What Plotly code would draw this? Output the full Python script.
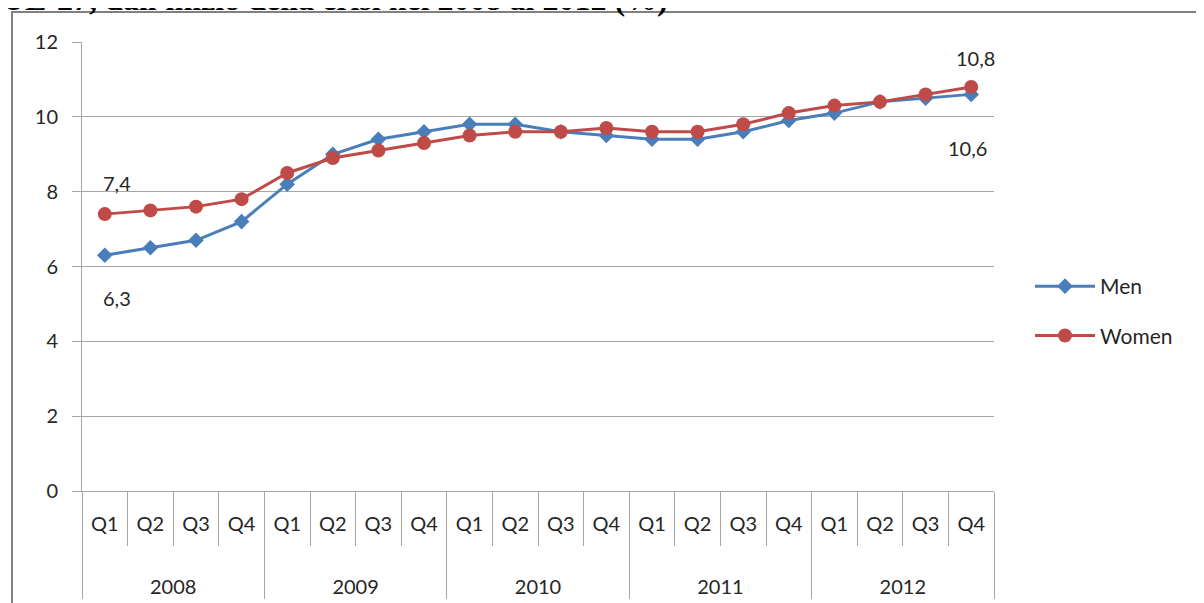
import plotly.graph_objects as go

years = ["2008", "2009", "2010", "2011", "2012"]
quarters = ["Q1", "Q2", "Q3", "Q4"]
men = [6.3, 6.5, 6.7, 7.2, 8.2, 9.0, 9.4, 9.6, 9.8, 9.8, 9.6, 9.5, 9.4, 9.4, 9.6, 9.9, 10.1, 10.4, 10.5, 10.6]
women = [7.4, 7.5, 7.6, 7.8, 8.5, 8.9, 9.1, 9.3, 9.5, 9.6, 9.6, 9.7, 9.6, 9.6, 9.8, 10.1, 10.3, 10.4, 10.6, 10.8]
title_text = "UE-27, dall'inizio della crisi nel 2008 al 2012 (%)"

x_outer = ["<br><br>" + y for y in years for _ in quarters]
x_inner = [q for _ in years for q in quarters]

def fmt(v):
    return f"{v:.1f}".replace(".", ",")

FONT = "Lato, Open Sans, sans-serif"
TXT = "#262626"
GRID = "#A6A6A6"

# page body has an 8px margin: work in reference pixels, convert to figure pixels
OFF = 8
W, H = 1204 - OFF, 603 - OFF
L, R, T, B = 82 - OFF, 994 - OFF, 42 - OFF, 491 - OFF

def px(x):
    return (x - OFF - L) / (R - L)

def py(y):
    return (B - (y - OFF)) / (B - T)

fig = go.Figure()
fig.add_trace(go.Scatter(
    x=[x_outer, x_inner], y=men, name="Men", mode="lines+markers",
    line=dict(color="#4A7EBB", width=3),
    marker=dict(symbol="diamond", size=12, color="#4A7EBB"),
    legendgroup="m", cliponaxis=False,
))
fig.add_trace(go.Scatter(
    x=[x_outer, x_inner], y=women, name="Women", mode="lines+markers",
    line=dict(color="#BE4B48", width=3),
    marker=dict(symbol="circle", size=14, color="#BE4B48"),
    legendgroup="w", cliponaxis=False,
))

n = len(men)
labels = [
    (0, women[0], 12, 31),
    (0, men[0], 12, -43),
    (n - 1, women[-1], 4, 29),
    (n - 1, men[-1], -4, -54),
]
annotations = [
    dict(text=fmt(v), x=i, y=v, xref="x", yref="y", showarrow=False,
         xshift=dx, yshift=dy, font=dict(size=20, family=FONT, color=TXT))
    for i, v, dx, dy in labels
]
annotations.append(
    dict(text="<b>" + title_text + "</b>", xref="paper", yref="paper", x=px(0), y=py(-1),
         xanchor="left", yanchor="middle", showarrow=False,
         font=dict(family="Liberation Serif, Times New Roman, serif", size=32, color="black"))
)

fig.update_layout(
    width=W, height=H,
    margin=dict(l=L, r=W - R, t=T, b=H - B),
    paper_bgcolor="white", plot_bgcolor="white",
    font=dict(family=FONT, size=20, color=TXT),
    showlegend=True,
    legend=dict(x=px(1030), y=py(266), xanchor="left", yanchor="top",
                traceorder="grouped", tracegroupgap=19,
                font=dict(size=21, family=FONT, color=TXT),
                itemwidth=60),
    xaxis=dict(
        type="multicategory", showgrid=False, range=[-0.5, n - 0.5], autorange=False,
        automargin=False,
        showline=True, linecolor=GRID, linewidth=1,
        ticks="outside", ticklen=54, tickcolor=GRID,
        showdividers=True, dividercolor=GRID, dividerwidth=1,
        ticklabelstandoff=15,
        tickfont=dict(size=20, family=FONT, color=TXT),
    ),
    yaxis=dict(
        range=[0, 12], dtick=2, showgrid=True, gridcolor=GRID, gridwidth=1,
        automargin=False,
        showline=True, linecolor=GRID, ticks="outside", ticklen=9,
        tickcolor=GRID, zeroline=False, ticklabelstandoff=10,
        tickfont=dict(size=20, family=FONT, color=TXT),
    ),
    shapes=[
        dict(type="line", xref="paper", yref="paper", x0=px(11), x1=px(1215), y0=py(12), y1=py(12),
             line=dict(color="#808080", width=2)),
        dict(type="line", xref="paper", yref="paper", x0=px(12), x1=px(12), y0=py(11), y1=py(615),
             line=dict(color="#808080", width=2)),
    ],
    annotations=annotations,
)

fig.write_html("out.html")
